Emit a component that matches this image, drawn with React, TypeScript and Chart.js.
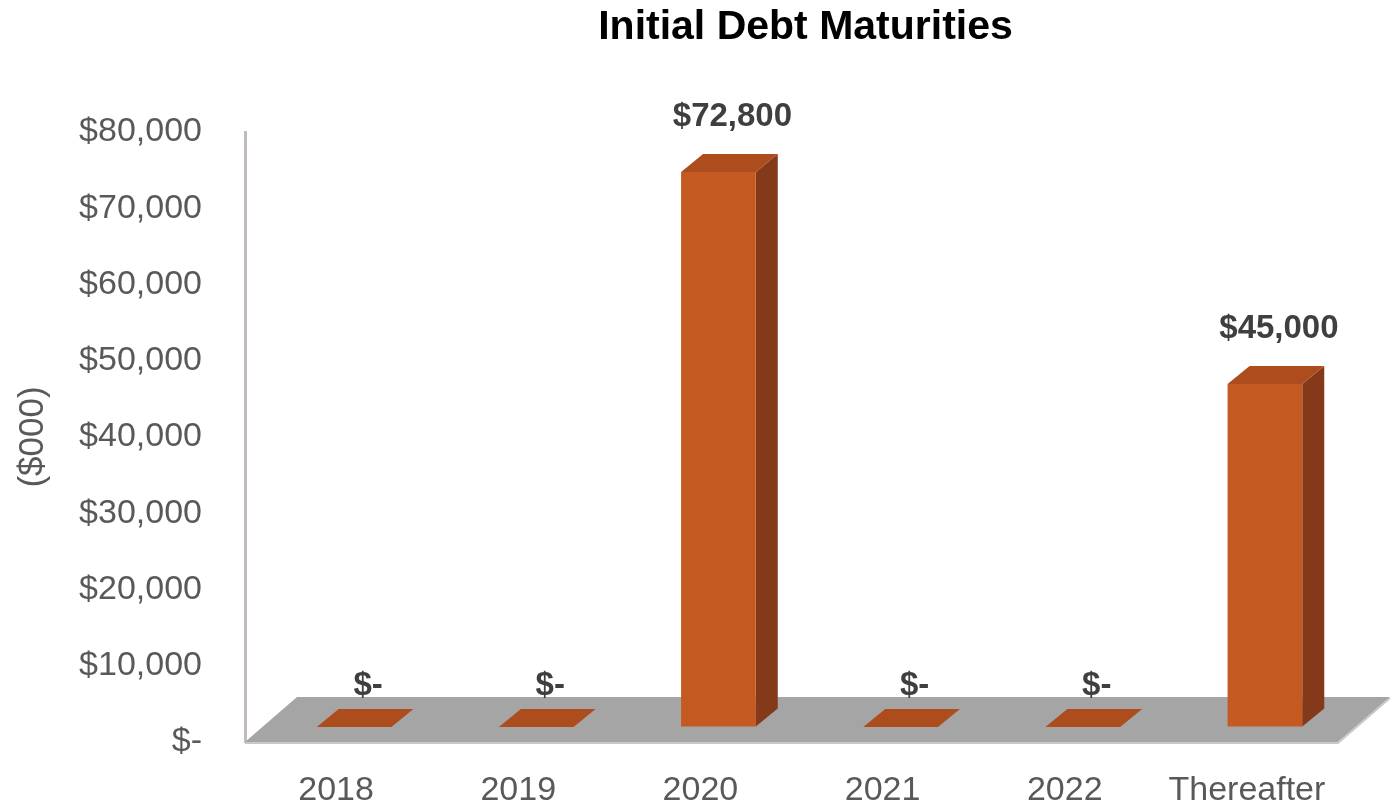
import React, { useEffect, useRef } from "react";
import { Chart, registerables } from "chart.js";

Chart.register(...registerables);

// ---- data ----
const categories = ["2018", "2019", "2020", "2021", "2022", "Thereafter"];
const maturities = [0, 0, 72800, 0, 0, 45000];
const valueLabels = ["$-", "$-", "$72,800", "$-", "$-", "$45,000"];
const yTickValues = [0, 10000, 20000, 30000, 40000, 50000, 60000, 70000, 80000];
const chartTitle = "Initial Debt Maturities";
const yAxisTitle = "($000)";

// ---- style ----
const FONT = "'Liberation Sans', Arial, sans-serif";
const TEXT_GRAY = "#595959";
const LABEL_DARK = "#3f3f3f";
const FRONT = "#c45a22";
const SIDE = "#84391a";
const TOP = "#ad4d1d";
const FLOOR = "#a5a5a5";
const FLOOR_EDGE = "#c9c9c9";
const FLOOR_DX = 52;
const FLOOR_DY = 45;
const BAR_SHIFT_X = 18;
const BAR_SHIFT_Y = 15;
const BAR_DX = 22;
const BAR_DY = 18;

const fmtTick = (v: number) => (v === 0 ? "$-" : "$" + v.toLocaleString("en-US"));

const threeD = {
  id: "threeD",
  beforeDatasetsDraw(chart: any) {
    const { ctx, chartArea: a } = chart;
    ctx.save();
    ctx.fillStyle = FLOOR;
    ctx.beginPath();
    ctx.moveTo(a.left, a.bottom);
    ctx.lineTo(a.right, a.bottom);
    ctx.lineTo(a.right + FLOOR_DX, a.bottom - FLOOR_DY);
    ctx.lineTo(a.left + FLOOR_DX, a.bottom - FLOOR_DY);
    ctx.closePath();
    ctx.fill();
    ctx.strokeStyle = FLOOR_EDGE;
    ctx.lineWidth = 2;
    ctx.beginPath();
    ctx.moveTo(a.left, a.bottom + 1);
    ctx.lineTo(a.right, a.bottom + 1);
    ctx.lineTo(a.right + FLOOR_DX, a.bottom - FLOOR_DY + 1);
    ctx.stroke();
    ctx.restore();

    ctx.save();
    ctx.translate(BAR_SHIFT_X, -BAR_SHIFT_Y);
    const meta = chart.getDatasetMeta(0);
    meta.data.forEach((el: any) => {
      const { x, y, base, width } = el.getProps(["x", "y", "base", "width"], true);
      const l = x - width / 2;
      const r = x + width / 2;
      ctx.fillStyle = SIDE;
      ctx.beginPath();
      ctx.moveTo(r, y);
      ctx.lineTo(r + BAR_DX, y - BAR_DY);
      ctx.lineTo(r + BAR_DX, base - BAR_DY);
      ctx.lineTo(r, base);
      ctx.closePath();
      ctx.fill();
      ctx.fillStyle = TOP;
      ctx.beginPath();
      ctx.moveTo(l, y);
      ctx.lineTo(r, y);
      ctx.lineTo(r + BAR_DX, y - BAR_DY);
      ctx.lineTo(l + BAR_DX, y - BAR_DY);
      ctx.closePath();
      ctx.fill();
    });
  },
  afterDatasetsDraw(chart: any) {
    const { ctx } = chart;
    ctx.restore();
    const meta = chart.getDatasetMeta(0);
    ctx.save();
    ctx.font = `bold 33px ${FONT}`;
    ctx.fillStyle = LABEL_DARK;
    ctx.textAlign = "center";
    ctx.textBaseline = "middle";
    meta.data.forEach((el: any, i: number) => {
      const { x, y } = el.getProps(["x", "y"], true);
      const off = maturities[i] > 0 ? 55 : 41;
      ctx.fillText(valueLabels[i], x + BAR_SHIFT_X + 14, y - BAR_SHIFT_Y - off);
    });
    ctx.restore();
  },
  afterDraw(chart: any) {
    const { ctx, chartArea: a } = chart;
    ctx.save();
    ctx.font = `bold 41px ${FONT}`;
    ctx.fillStyle = "#000000";
    ctx.textAlign = "center";
    ctx.textBaseline = "middle";
    ctx.fillText(chartTitle, (a.left + a.right) / 2 + 14, 28);
    ctx.restore();
  },
};

export default function App() {
  const ref = useRef<HTMLCanvasElement | null>(null);
  useEffect(() => {
    if (!ref.current) return;
    const chart = new Chart(ref.current, {
      type: "bar",
      data: {
        labels: categories,
        datasets: [
          {
            data: maturities,
            backgroundColor: FRONT,
            borderWidth: 0,
            barPercentage: 0.41,
            categoryPercentage: 1,
          },
        ],
      },
      options: {
        animation: false,
        responsive: true,
        maintainAspectRatio: false,
        layout: { padding: { top: 132, right: 55, bottom: 0, left: 0 } },
        plugins: {
          legend: { display: false },
          title: { display: false },
          tooltip: { enabled: false },
        },
        scales: {
          x: {
            grid: { display: false, drawTicks: false },
            border: { display: false },
            ticks: {
              color: TEXT_GRAY,
              font: { family: FONT, size: 34 },
              padding: 28,
              maxRotation: 0,
            },
            afterFit: (s: any) => {
              s.height = 70;
            },
          },
          y: {
            min: 0,
            max: 80000,
            afterBuildTicks: (s: any) => {
              s.ticks = yTickValues.map((v) => ({ value: v }));
            },
            grid: { display: true, color: "rgba(0,0,0,0)", drawTicks: false },
            border: { display: true, color: "#c2baba", width: 3 },
            ticks: {
              color: TEXT_GRAY,
              font: { family: FONT, size: 34 },
              padding: 43,
              callback: (v: any) => fmtTick(Number(v)),
            },
            title: {
              display: true,
              text: yAxisTitle,
              color: TEXT_GRAY,
              font: { family: FONT, size: 35 },
              padding: { top: 12, bottom: 0 },
            },
            afterFit: (s: any) => {
              s.width = 245;
            },
          },
        },
      },
      plugins: [threeD],
    });
    return () => chart.destroy();
  }, []);
  return (
    <div style={{ position: "fixed", left: 0, top: 0, width: 1393, height: 812, background: "#ffffff" }}>
      <canvas ref={ref} />
    </div>
  );
}
